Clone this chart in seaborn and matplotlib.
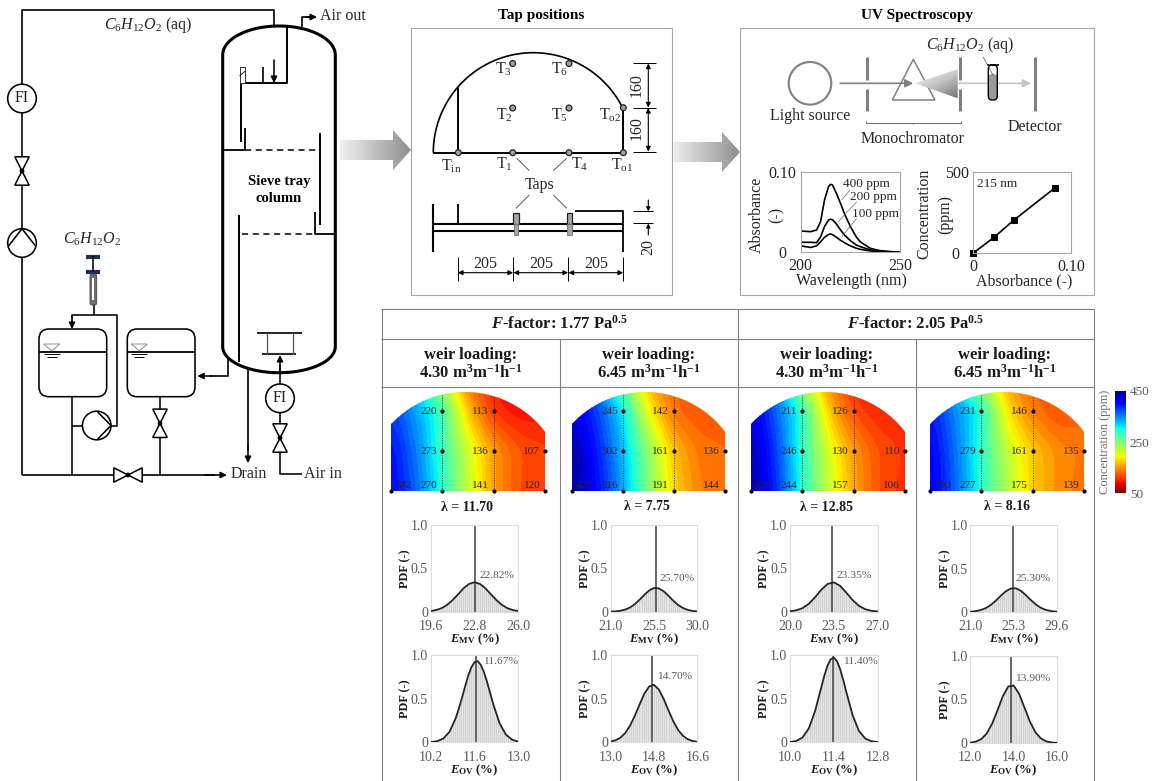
import numpy as np
import pandas as pd
import matplotlib
matplotlib.use("Agg")
import matplotlib.pyplot as plt
from matplotlib.patches import Circle, Polygon, FancyBboxPatch, Rectangle
from matplotlib.transforms import ScaledTranslation
import seaborn as sns

sns.set_theme(style="white")
plt.rcParams.update({
    "font.family": ["Liberation Serif", "DejaVu Serif"],
    "mathtext.fontset": "custom",
    "mathtext.rm": "Liberation Serif",
    "mathtext.it": "Liberation Serif:italic",
    "mathtext.bf": "Liberation Serif:bold",
    "mathtext.bfit": "Liberation Serif:italic:bold",
    "axes.unicode_minus": False,
})

# ---------- data ----------
wl = [200, 205, 208, 210, 212, 214, 215, 216, 218, 220, 222, 225, 228, 230, 235, 240, 245, 250]
abs400 = [.0264, .0256, .0277, .038, .065, .0814, .0843, .0835, .073, .061, .048, .032, .019, .013, .005, .002, .001, 0]
abs200 = [.0124, .0124, .012, .019, .032, .040, .041, .0405, .035, .028, .0215, .0145, .009, .007, .003, .001, .0005, 0]
abs100 = [.008, .006, .008, .013, .0186, .022, .0227, .022, .0186, .015, .012, .008, .005, .0037, .0017, .0008, .0003, 0]
cal_abs = [0, .0215, .0413, .084]
cal_conc = [0, 98, 202, 404]

tap_values = [
    [382, 270, 273, 220, 141, 136, 113, 120, 107],
    [427, 316, 302, 245, 191, 161, 142, 144, 136],
    [420, 244, 246, 211, 157, 130, 126, 106, 110],
    [390, 277, 279, 231, 175, 161, 146, 139, 135],
]
tap_x = [0, 205, 205, 205, 410, 410, 410, 615, 615]
tap_y = [0, 0, 160, 320, 0, 160, 320, 0, 160]
lambdas = ["λ = 11.70", "λ = 7.75", "λ = 12.85", "λ = 8.16"]

grid_x = [0, 102.5, 205, 307.5, 410, 512.5, 615]
grid_y = [0, 160, 320, 400]
field1 = [[405, 360, 290, 215, 150, 118, 112], [400, 350, 280, 208, 150, 120, 112],
          [380, 335, 280, 165, 105, 92, 95], [370, 320, 235, 140, 98, 90, 92]]
field2 = [[445, 400, 335, 245, 175, 140, 130], [440, 390, 325, 240, 165, 135, 130],
          [420, 375, 310, 190, 130, 120, 125], [410, 355, 265, 165, 130, 122, 125]]
field3 = [[440, 385, 290, 215, 155, 118, 105], [435, 375, 285, 205, 150, 118, 108],
          [420, 360, 290, 170, 115, 100, 100], [410, 345, 240, 150, 105, 98, 100]]
field4 = [[415, 360, 290, 225, 170, 145, 135], [410, 355, 285, 215, 170, 145, 138],
          [395, 345, 295, 180, 135, 118, 125], [385, 330, 245, 160, 130, 120, 125]]
fields = [field1, field2, field3, field4]

mv1_x = [19.6, 20.0, 20.4, 20.8, 21.2, 21.6, 22.0, 22.4, 22.8, 23.2, 23.6, 24.0, 24.4, 24.8, 25.2, 25.6, 26.0]
mv1_y = [.008, .019, .041, .079, .134, .20, .27, .32, .34, .32, .27, .20, .134, .079, .041, .019, .008]
mv2_x = [21, 21.5, 22, 22.5, 23, 23.5, 24, 24.5, 25, 25.5, 26, 26.5, 27, 27.5, 28, 28.5, 29, 29.5, 30]
mv2_y = [.001, .004, .011, .024, .048, .087, .138, .195, .245, .273, .269, .236, .184, .127, .078, .043, .021, .009, .003]
mv3_x = [20, 20.5, 21, 21.5, 22, 22.5, 23, 23.5, 24, 24.5, 25, 25.5, 26, 26.5, 27]
mv3_y = [.005, .016, .041, .091, .166, .253, .32, .339, .298, .219, .134, .068, .029, .010, .003]
mv4_x = [21, 21.5, 22, 22.5, 23, 23.5, 24, 24.5, 25, 25.5, 26, 26.5, 27, 27.5, 28, 28.5, 29, 29.5, 29.6]
mv4_y = [.003, .009, .021, .043, .078, .127, .184, .236, .269, .273, .245, .195, .138, .087, .048, .024, .011, .004, .003]
ov1_x = [10.2, 10.4, 10.6, 10.8, 11.0, 11.1, 11.2, 11.3, 11.4, 11.5, 11.6, 11.7, 11.8, 11.9, 12.0, 12.2, 12.4, 12.6, 12.8, 13.0]
ov1_y = [.003, .012, .042, .12, .277, .387, .51, .64, .764, .86, .918, .93, .888, .806, .693, .436, .22, .09, .03, .008]
ov2_x = [13, 13.2, 13.4, 13.6, 13.8, 14, 14.2, 14.4, 14.6, 14.8, 15, 15.2, 15.4, 15.6, 15.8, 16, 16.2, 16.4, 16.6]
ov2_y = [.009, .023, .052, .105, .189, .302, .433, .557, .64, .658, .605, .498, .367, .242, .143, .075, .036, .015, .006]
ov3_x = [10, 10.2, 10.4, 10.6, 10.8, 11, 11.1, 11.2, 11.3, 11.4, 11.5, 11.6, 11.7, 11.8, 12, 12.2, 12.4, 12.6, 12.8]
ov3_y = [.003, .015, .055, .159, .357, .63, .768, .88, .951, .97, .93, .84, .715, .574, .309, .131, .044, .012, .003]
ov4_x = [12, 12.25, 12.5, 12.75, 13, 13.25, 13.5, 13.75, 14, 14.25, 14.5, 14.75, 15, 15.25, 15.5, 15.75, 16]
ov4_y = [.004, .015, .044, .107, .218, .373, .537, .649, .661, .566, .407, .246, .125, .054, .019, .006, .002]

pdf_curves = [(mv1_x, mv1_y), (mv2_x, mv2_y), (mv3_x, mv3_y), (mv4_x, mv4_y),
              (ov1_x, ov1_y), (ov2_x, ov2_y), (ov3_x, ov3_y), (ov4_x, ov4_y)]
pdf_lines = [22.84, 25.7, 23.38, 25.27, 11.66, 14.73, 11.38, 13.89]
pdf_labels = ["22.82%", "25.70%", "23.35%", "25.30%", "11.67%", "14.70%", "11.40%", "13.90%"]
pdf_label_xy = [(23.2, .42), (26.05, .385), (23.73, .415), (25.5, .385),
                (11.86, .93), (14.91, .75), (11.7, .925), (14.06, .74)]
pdf_ticks = [(19.6, 22.8, 26.0), (21.0, 25.5, 30.0), (20.0, 23.5, 27.0), (21.0, 25.3, 29.6),
             (10.2, 11.6, 13.0), (13.0, 14.8, 16.6), (10.0, 11.4, 12.8), (12.0, 14.0, 16.0)]
pdf_xlabels = [r"$\mathbfit{E}_{\mathbf{MV}}$ (%)"] * 4 + [r"$\mathbfit{E}_{\mathbf{OV}}$ (%)"] * 4

# ---------- canvas ----------
W, H = 1155, 781
fig = plt.figure(figsize=(W / 100, H / 100), dpi=100, facecolor="white")
ov = fig.add_axes([0, 0, 1, 1], zorder=0)
ov.set_xlim(0, W)
ov.set_ylim(H, 0)
ov.axis("off")
top = fig.add_axes([0, 0, 1, 1], zorder=10)
top.set_xlim(0, W)
top.set_ylim(H, 0)
top.axis("off")
top.patch.set_alpha(0)


def box(x0, y0, x1, y1):
    return [x0 / W, 1 - y1 / H, (x1 - x0) / W, (y1 - y0) / H]


def L(xs, ys, lw=1.15, c="black", z=2, ax=None, **kw):
    kw.setdefault("solid_capstyle", "butt")
    (ax or ov).plot(xs, ys, color=c, lw=lw, zorder=z, **kw)


def A(x0, y0, x1, y1, lw=1.15, c="black", style="-|>", ms=9, z=3):
    ov.annotate("", xy=(x1, y1), xytext=(x0, y0),
                arrowprops=dict(arrowstyle=style, lw=lw, color=c, shrinkA=0, shrinkB=0,
                                mutation_scale=ms), zorder=z)


def T(x, y, s, size=11.5, c="#262626", ax=None, **kw):
    kw.setdefault("ha", "center")
    kw.setdefault("va", "center")
    (ax or top).text(x, y, s, fontsize=size, color=c, **kw)


def valve(cx, cy, vertical=True):
    a, b = (7.2, 14.2) if vertical else (14.2, 7.2)
    pts = ([(cx - a, cy - b), (cx + a, cy - b), (cx - a, cy + b), (cx + a, cy + b)] if vertical
           else [(cx - a, cy - b), (cx - a, cy + b), (cx + a, cy - b), (cx + a, cy + b)])
    ov.add_patch(Polygon(pts, closed=True, fc="white", ec="black", lw=1.1, zorder=4))
    ov.add_patch(Circle((cx, cy), 2.4, fc="black", ec="none", zorder=5))


def FI(cx, cy):
    ov.add_patch(Circle((cx, cy), 14.3, fc="white", ec="black", lw=1.15, zorder=4))
    T(cx, cy, "FI", 11.5)


def pump(cx, cy, side):
    ov.add_patch(Circle((cx, cy), 14.3, fc="white", ec="black", lw=1.15, zorder=4))
    if side == "top":
        L([cx - 13.5, cx, cx + 13.5], [cy + 3, cy - 14.3, cy + 3], z=5)
    else:
        L([cx + 1, cx + 14.3, cx + 1], [cy - 13.5, cy, cy + 13.5], z=5)


def tank(x0, x1, tx):
    ov.add_patch(FancyBboxPatch((x0, 329), x1 - x0, 67.7, boxstyle="round,pad=0,rounding_size=10",
                                fc="white", ec="black", lw=1.15, zorder=2))
    L([x0, x1], [351.7, 351.7], lw=1.3, z=3)
    ov.add_patch(Polygon([(tx - 8, 344), (tx + 8, 344), (tx, 351)], closed=True, fc="white",
                         ec="#8c8c8c", lw=.7, zorder=3))
    L([tx - 8, tx + 8], [354.2, 354.2], lw=.7, z=3)
    L([tx - 5, tx + 5], [356.8, 356.8], lw=.7, z=3)


# ---------- P&ID ----------
L([22, 22, 274, 274], [85, 10, 10, 70], lw=1.2)
A(274, 60, 274, 83)
FI(22, 98.5)
L([22, 22], [113, 229])
valve(22, 171)
pump(22, 243, "top")
L([22, 22], [258, 475], lw=1.2)
L([22, 215], [475, 475], lw=1.2)
A(205, 475, 227, 475)
valve(128, 475, vertical=False)
tank(39, 106.7, 51.7)
tank(127.3, 195, 139.3)
L([72, 72], [396.7, 475])
L([72, 82.7], [426, 426])
pump(96.7, 425.5, "right")
L([110.5, 116.7, 116.7, 72, 72], [426, 426, 314.7, 314.7, 318], lw=1.15)
A(72, 316, 72, 329)
L([160, 160], [396.7, 475])
valve(160, 423.3)
# syringe
L([86, 100], [256.5, 256.5], lw=3, c="#1f3050")
L([86, 100], [271.8, 271.8], lw=3, c="#1f3050")
L([93.3, 93.3], [256, 272])
ov.add_patch(FancyBboxPatch((90, 274), 6.7, 31, boxstyle="round,pad=0,rounding_size=2", fc="#6e6e6e",
                            ec="#444444", lw=.6, zorder=3))
L([93.3, 93.3], [278, 300], lw=1.5, c="white", z=4)
L([93.8, 93.8], [305, 315])
# column
t = np.linspace(np.pi, 0, 60)
ov.add_patch(Polygon(np.c_[279 + 56.3 * np.cos(t), 55 - 29 * np.sin(t)].tolist()
                     + np.c_[279 + 56.3 * np.cos(t[::-1]), 346.7 + 26 * np.sin(t[::-1])].tolist(),
                     closed=True, fc="white", ec="black", lw=2.2, zorder=2))
L([301.7, 301.7, 312], [26.7, 17, 17], lw=1.2)
A(306, 17, 317, 17)
L([287.3, 287.3, 240.7, 240.7], [26.7, 83.3, 83.3, 141.7], lw=1.4, z=3)
L([262.7, 262.7], [66.7, 83.3], lw=1.2, z=3)
ov.add_patch(Rectangle((239.5, 67.3), 5.8, 15.4, fc="white", ec="#333333", lw=.7, zorder=3))
L([239.5, 245.3], [76, 71], lw=.6, z=4)
L([222.7, 245, 245], [150, 150, 128], lw=1.3, z=3)
L([245, 318], [150, 150], lw=1.1, ls=(0, (4, 3)), z=3)
L([320, 320], [133, 225], lw=1.4, z=3)
L([315, 315, 335], [212, 234, 234], lw=1.3, z=3)
L([241.7, 315], [234, 234], lw=1.1, ls=(0, (4, 3)), z=3)
L([239, 239], [215, 361.7], lw=1.4, z=3)
L([257.3, 301.7], [332.7, 332.7], lw=1.2, z=3)
L([262, 296], [354, 354], lw=1.2, z=3)
L([266.7, 266.7], [332.7, 354], lw=.9, c="#555555", z=3)
L([292.7, 292.7], [332.7, 354], lw=.9, c="#555555", z=3)
L([301.7, 280, 280], [474, 474, 365], lw=1.15, z=3)
A(280, 370, 280, 355)
FI(280, 398.3)
valve(280, 438)
L([248, 248], [368, 450], lw=1.2, z=3)
A(248, 445, 248, 463)
L([228.3, 228.3, 210], [358, 376, 376], lw=1.2, z=1)
A(212, 376, 197.3, 376)
T(320, 16.5, "Air out", ha="left")
T(231, 474, "Drain", ha="left")
T(304, 473.5, "Air in", ha="left")
T(148, 25, r"$C_6H_{12}O_2$ (aq)", 11.5)
T(92, 239, r"$C_6H_{12}O_2$", 11.5)
T(279, 181, "Sieve tray", 10.5, fontweight="bold", c="black")
T(279, 199, "column", 10.5, fontweight="bold", c="black")


# ---------- gradient arrows ----------
def grad_arrow(x0, xb, xt, y, hb, hh):
    im = ov.imshow(np.linspace(1, 0, 200).reshape(1, -1), extent=(x0, xt, y + hh, y - hh),
                   cmap=sns.light_palette("#8f8f8f", as_cmap=True, reverse=True), vmin=0, vmax=1,
                   aspect="auto", zorder=1)
    clip = Polygon([(x0, y - hb), (xb, y - hb), (xb, y - hh), (xt, y), (xb, y + hh), (xb, y + hb), (x0, y + hb)],
                   closed=True, transform=ov.transData)
    im.set_clip_path(clip)


grad_arrow(340, 393, 411, 150, 10, 20)
grad_arrow(672, 722, 740, 152, 10, 20)
ov.set_xlim(0, W)
ov.set_ylim(H, 0)

# ---------- tap positions ----------
T(541.5, 16, "Tap positions", 11, fontweight="bold", c="black")
ov.add_patch(Rectangle((411, 28), 260.7, 267, fc="none", ec="#a6a6a6", lw=.8, zorder=1))
ta = np.linspace(np.pi, np.arcsin(44.5 / 100), 80)
L(533.3 + 100 * np.cos(ta), 152.7 - 100 * np.sin(ta), lw=1.2)
L([433.3, 623.3, 623.3], [152.7, 152.7, 107.7], lw=1.4)
L([458.3, 458.3], [152.7, 86.7], lw=1.4)
for px, py in [(458.3, 152.7), (512.7, 152.7), (569, 152.7), (623.3, 152.7), (623.3, 107.7),
               (512.7, 108), (569, 108), (512.7, 63.5), (569, 63.5)]:
    ov.add_patch(Circle((px, py), 2.9, fc="#a0a0a0", ec="#222222", lw=.9, zorder=4))
for px, py, s in [(451, 166, r"T$_{\mathrm{in}}$"), (504, 164, r"T$_1$"), (580, 164, r"T$_4$"),
                  (622, 165, r"T$_{\mathrm{o1}}$"), (610, 115, r"T$_{\mathrm{o2}}$"), (504, 115, r"T$_2$"),
                  (560, 115, r"T$_5$"), (504, 69, r"T$_3$"), (560, 69, r"T$_6$")]:
    T(px, py, s, 11.5)
T(540, 185, "Taps", 11.5)
for seg in [((516.7, 529.3), (158.3, 170.7)), ((566.7, 553.3), (158.3, 170.7)),
            ((529.3, 516), (195, 208.3)), ((553.3, 566.7), (195, 208.3))]:
    L(seg[0], seg[1], lw=.6, c="#404040")
L([433.3, 433.3], [204, 252.3], lw=1.5)
L([433.3, 622.7], [224, 224], lw=1.5)
L([433.3, 622.7], [230.7, 230.7], lw=1.5)
L([458.3, 458.3], [204, 224], lw=1.3)
L([575, 622.7, 622.7], [211.2, 211.2, 252.3], lw=1.3)
for rx in (513.3, 566.7):
    ov.add_patch(Rectangle((rx, 212.5), 5.6, 11.5, fc="#a6a6a6", ec="#222222", lw=.9, zorder=4))
    ov.add_patch(Rectangle((rx + .6, 224), 4.4, 11, fc="#a6a6a6", ec="#707070", lw=.6, zorder=4))
for yy in (63.3, 107.7, 151.7):
    L([633, 655.7], [yy, yy], lw=.7)
A(648.3, 63.5, 648.3, 107.5, lw=.8, style="<|-|>", ms=7)
A(648.3, 107.9, 648.3, 151.5, lw=.8, style="<|-|>", ms=7)
T(637, 85.5, "160", 11.5, rotation=90)
T(637, 128, "160", 11.5, rotation=90)
L([633, 653], [211.3, 211.3], lw=.7)
L([633, 653], [223.3, 223.3], lw=.7)
A(648.3, 200, 648.3, 211.3, lw=.8, ms=6)
A(648.3, 235, 648.3, 223.5, lw=.8, ms=6)
T(648, 247, "20", 11.5, rotation=90)
for xx in (457.7, 513.3, 568.3, 623.3):
    L([xx, xx], [256.7, 280.7], lw=.7)
for a_, b_ in ((457.9, 513.1), (513.5, 568.1), (568.5, 623.1)):
    A(a_, 272.7, b_, 272.7, lw=.8, style="<|-|>", ms=7)
for xx in (485, 541, 596):
    T(xx, 263.5, "205", 11.5)

# ---------- UV ----------
T(917, 16, "UV Spectroscopy", 11, fontweight="bold", c="black")
ov.add_patch(Rectangle((740, 28), 354, 267, fc="none", ec="#a6a6a6", lw=.8, zorder=1))
ov.add_patch(Circle((810, 83.3), 21.3, fc="none", ec="#808080", lw=1.5))
A(840.3, 83.3, 913.3, 83.3, lw=1.2, c="#7f7f7f", ms=12)
for sx in (867, 959.7, 1035):
    if sx == 1035:
        L([sx, sx], [56.7, 111], lw=2.2, c="#808080")
    else:
        L([sx, sx], [56.7, 80], lw=2.2, c="#808080")
        L([sx, sx], [89.3, 111], lw=2.2, c="#808080")
ov.add_patch(Polygon([(913.3, 59.3), (892.3, 100), (935, 100)], closed=True, fc="none", ec="#808080", lw=1.1, zorder=2))
w = ov.imshow(np.linspace(0, 1, 100).reshape(-1, 1) * .4 + np.linspace(0, .3, 100).reshape(1, -1),
              extent=(915, 957.7, 98.3, 69.3), cmap="Greys", vmin=-.1, vmax=1.2, aspect="auto", zorder=3,
              origin="upper")
w.set_clip_path(Polygon([(915, 83.3), (957.7, 69.3), (957.7, 98.3)], closed=True, transform=ov.transData))
ov.set_xlim(0, W)
ov.set_ylim(H, 0)
A(957.7, 83.3, 1031, 83.3, lw=1.2, c="#c4c4c4", ms=12)
ov.add_patch(FancyBboxPatch((988.3, 74), 9, 26, boxstyle="round,pad=0,rounding_size=4", fc="#9a9a9a", ec="none", zorder=3))
ov.add_patch(FancyBboxPatch((988.3, 65), 9, 35, boxstyle="round,pad=0,rounding_size=4", fc="none", ec="black", lw=1, zorder=4))
L([987, 998.7], [65, 65], lw=1.2, z=5)
L([983, 993], [56.7, 75], lw=.5, c="#555555", z=5)
T(970.7, 45, r"$C_6H_{12}O_2$ (aq)", 11.5)
T(810, 116, "Light source", 11.5)
T(1035, 127, "Detector", 11.5)
T(912.7, 139, "Monochromator", 11.5)
L([865.7, 865.7, 960.7, 960.7], [120.5, 122.7, 122.7, 120.5], lw=.6, c="#555555")
L([913, 913], [122.7, 124], lw=.6, c="#555555")

axa = fig.add_axes(box(800.7, 171.7, 900, 252.3), zorder=5)
spec = pd.DataFrame({"wl": wl * 3, "abs": abs400 + abs200 + abs100, "ppm": ["400"] * 18 + ["200"] * 18 + ["100"] * 18})
sns.lineplot(data=spec, x="wl", y="abs", units="ppm", estimator=None, color="black", lw=1.2, ax=axa)
axa.set_xlim(200, 250)
axa.set_ylim(0, .1)
axa.set_xticks([200, 250], ["200", "250"])
axa.set_yticks([0, .1], ["0", "0.10"])
axa.set_xlabel("")
axa.set_ylabel("")
axb = fig.add_axes(box(973.3, 172, 1071, 253), zorder=5)
sns.lineplot(x=cal_abs, y=cal_conc, marker="s", ms=5, color="black", mec="black", lw=1.2, ax=axb, clip_on=False)
axb.set_xlim(0, .1)
axb.set_ylim(0, 500)
axb.set_xticks([0, .1], ["0", "0.10"])
axb.set_yticks([0, 500], ["0", "500"])
axb.set_xlabel("")
axb.set_ylabel("")
for ax_ in (axa, axb):
    for s_ in ax_.spines.values():
        s_.set_color("#a6a6a6")
        s_.set_linewidth(.8)
    ax_.tick_params(length=0, labelsize=11.5, colors="#262626")
    ax_.tick_params(axis="x", pad=4)
    ax_.tick_params(axis="y", pad=3)
    zero = ax_.get_yticklabels()[0]
    zero.set_transform(zero.get_transform() + ScaledTranslation(-.1, 0, fig.dpi_scale_trans))
T(757, 215, "Absorbance", 11.5, rotation=90)
T(777, 215, "(-)", 11.5, rotation=90)
T(851, 281, "Wavelength (nm)", 11.5)
T(924, 214, "Concentration", 11.5, rotation=90)
T(945, 214, "(ppm)", 11.5, rotation=90)
T(1024, 281, "Absorbance (-)", 11.5)
T(866, 184, "400 ppm", 9.5)
T(873.7, 197, "200 ppm", 9.5)
T(875, 214, "100 ppm", 9.5)
T(977, 184, "215 nm", 9.5, ha="left")
for seg in [((850, 841.7), (190, 200)), ((856.7, 838.3), (201.7, 221.7)), ((856.7, 841.7), (218.3, 236.7))]:
    L(seg[0], seg[1], lw=.5, c="#666666", ax=top, z=20)

# ---------- table ----------
TC = "#808080"
for xx in (381.5, 737.5, 1094):
    L([xx, xx], [309, 781], lw=.8, c=TC)
for xx in (559.5, 915.5):
    L([xx, xx], [339, 781], lw=.8, c=TC)
for yy in (309, 339, 387):
    L([381, 1094], [yy, yy], lw=.8, c=TC)
T(559.5, 323.5, r"$\mathbfit{F}$-factor: 1.77 Pa$^{\mathbf{0.5}}$", 12, fontweight="bold", c="#1a1a1a")
T(915.5, 323.5, r"$\mathbfit{F}$-factor: 2.05 Pa$^{\mathbf{0.5}}$", 12, fontweight="bold", c="#1a1a1a")
for cx0, wl_txt in [(470.5, "4.30"), (648.5, "6.45"), (826.5, "4.30"), (1005, "6.45")]:
    T(cx0, 355, "weir loading:", 12, fontweight="bold", c="#1a1a1a")
    T(cx0, 373, wl_txt + r" m$^{\mathbf{3}}$m$^{\mathbf{-1}}$h$^{\mathbf{-1}}$", 12, fontweight="bold", c="#1a1a1a")


# ---------- concentration maps ----------
def smooth_field(z):
    """Resample the read-off grid onto a fine mesh and soften it so the bands are not kinked."""
    z = np.asarray(z, float)
    fx = np.linspace(0, 615, 124)
    fy = np.linspace(0, 400, 81)
    by_x = np.array([np.interp(fx, grid_x, row) for row in z])
    fine = np.array([np.interp(fy, grid_y, col) for col in by_x.T]).T
    n = 13
    kernel = np.ones(n) / n
    pad = n // 2
    for _ in range(2):
        p = np.pad(fine, pad, mode="edge")
        p = np.apply_along_axis(lambda v: np.convolve(v, kernel, mode="valid"), 1, p)
        fine = np.apply_along_axis(lambda v: np.convolve(v, kernel, mode="valid"), 0, p)
    return fx, fy, fine


hm_x = [(391, 545), (571.7, 725), (750.7, 905), (930, 1084)]
lam_pos = [(467, 507.7), (647, 506), (827, 507.7), (1006.7, 506.7)]
R, CXD, CYD = 402, 295, -6
levels = np.linspace(50, 450, 41)
for i, (x0, x1) in enumerate(hm_x):
    axh = fig.add_axes(box(x0, 392, x1, 491), zorder=5)
    fx, fy, fz = smooth_field(fields[i])
    cs = axh.contourf(fx, fy, fz, levels=levels, cmap="jet_r", extend="both")
    axh.set_xlim(0, 615)
    axh.set_ylim(0, 396)
    axh.axis("off")
    xs = np.linspace(0, 615, 120)
    ys = CYD + np.sqrt(R ** 2 - (xs - CXD) ** 2)
    clip = Polygon(np.r_[[[0, 0]], np.c_[xs, ys], [[615, 0]]], closed=True, transform=axh.transData)
    cs.set_clip_path(clip)
    axh.vlines([205, 410], 0, CYD + np.sqrt(R ** 2 - (np.array([205, 410]) - CXD) ** 2),
               colors="#333333", lw=.6, linestyles=(0, (1.5, 1.5)))
    axh.scatter(tap_x, tap_y, s=9, c="black", clip_on=False, zorder=5, lw=0)
    for k, (tx, ty, v) in enumerate(zip(tap_x, tap_y, tap_values[i])):
        if k == 0:
            axh.annotate(str(v), (tx, ty), xytext=(3, .5), textcoords="offset points", fontsize=8,
                         color="#262626", ha="left", va="bottom", zorder=6, annotation_clip=False)
        else:
            axh.annotate(str(v), (tx, ty), xytext=(-3.5, 0 if ty else .5), textcoords="offset points", fontsize=8,
                         color="#262626", ha="right", va="center" if ty else "bottom", zorder=6,
                         annotation_clip=False)
    T(lam_pos[i][0], lam_pos[i][1], lambdas[i], 10, fontweight="bold", c="#1a1a1a")

cax = fig.add_axes(box(1115, 391, 1125.7, 493.3), zorder=5)
gradient = np.linspace(450, 50, 256).reshape(-1, 1)
cax.imshow(gradient, extent=(0, 1, 50, 450), cmap="jet_r", vmin=50, vmax=450, aspect="auto")
cax.set_xticks([])
cax.yaxis.tick_right()
cax.set_yticks([50, 250, 450], ["50", "250", "450"])
cax.tick_params(length=0, labelsize=9.5, colors="#595959", pad=3)
for s_ in cax.spines.values():
    s_.set_visible(False)
T(1105, 442, "Concentration (ppm)", 9, c="#6e6e6e", rotation=90)

# ---------- PDF panels ----------
pdf_boxes = [(430.7, 525, 518.3, 611.7), (610.7, 525, 697.3, 611.7), (790, 525, 877.7, 611.7), (970.3, 525, 1057, 612),
             (430.7, 655, 518.3, 742.3), (610.7, 655, 697.3, 742.3), (790, 655, 877.7, 742.3), (970.3, 656, 1057, 743)]
for i, b in enumerate(pdf_boxes):
    axp = fig.add_axes(box(*b), zorder=5)
    xv, yv = pdf_curves[i]
    ticks = pdf_ticks[i]
    poly = axp.fill_between(xv, yv, 0, color="#d2d2d2", lw=0, zorder=1)
    stripes = axp.vlines(np.linspace(ticks[0], ticks[2], 46), 0, 1, colors="#ececec", lw=.5, zorder=1.5)
    stripes.set_clip_path(poly.get_paths()[0], poly.get_transform())
    sns.lineplot(x=xv, y=yv, color="#262626", lw=1.3, ax=axp, zorder=3)
    axp.axvline(pdf_lines[i], color="#595959", lw=1.3, zorder=2)
    axp.set_xlim(ticks[0], ticks[2])
    axp.set_ylim(0, 1)
    axp.set_xticks(list(ticks), [f"{v:.1f}" for v in ticks])
    axp.set_yticks([0, .5, 1], ["0", "0.5", "1.0"])
    axp.tick_params(length=0, labelsize=10, colors="#595959")
    axp.tick_params(axis="x", pad=6)
    axp.tick_params(axis="y", pad=2)
    for s_ in axp.spines.values():
        s_.set_color("#dcdcdc")
        s_.set_linewidth(.8)
    lx, ly = pdf_label_xy[i]
    axp.text(lx, ly, pdf_labels[i], fontsize=8.2, color="#595959", ha="left", va="center", clip_on=False, zorder=6)
    T(b[0] - 25.5, (b[1] + b[3]) / 2, "PDF (-)", 8.8, fontweight="bold", c="#1a1a1a", rotation=90)
    T((b[0] + b[2]) / 2, b[3] + 27.5, pdf_xlabels[i], 9.2, fontweight="bold", c="#1a1a1a")

fig.savefig("out.png", dpi=100)
